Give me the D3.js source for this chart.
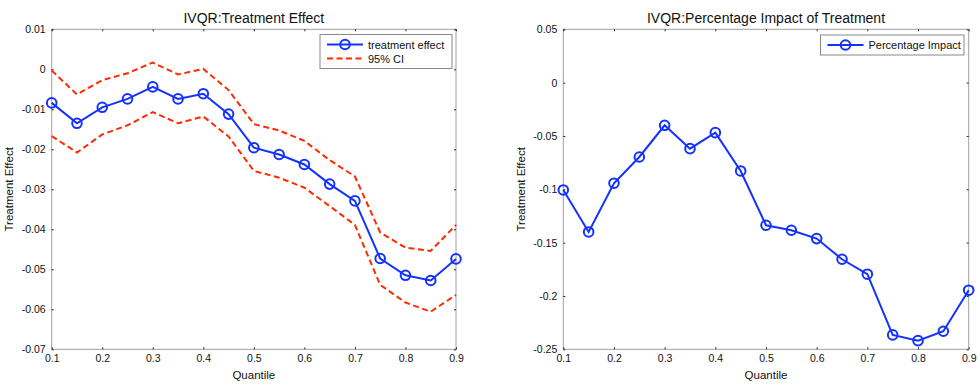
<!DOCTYPE html>
<html><head><meta charset="utf-8">
<script src="https://cdn.jsdelivr.net/npm/d3@7"></script>
<style>body{margin:0;background:#fff}svg{display:block}text{font-family:"Liberation Sans",Arial,sans-serif;fill:#111}</style>
</head><body><svg id="c" width="980" height="386"></svg>
<script>
const quantiles = [0.1,0.15,0.2,0.25,0.3,0.35,0.4,0.45,0.5,0.55,0.6,0.65,0.7,0.75,0.8,0.85,0.9];
const effect = [-0.0084,-0.0135,-0.0095,-0.0074,-0.0044,-0.0074,-0.0061,-0.0112,-0.0196,-0.0213,-0.0238,-0.0287,-0.0329,-0.0473,-0.0515,-0.0528,-0.0474];
const ciUpper = [-0.0003,-0.0063,-0.0027,-0.0010,0.0017,-0.0013,0.0001,-0.0052,-0.0137,-0.0153,-0.0179,-0.0227,-0.0268,-0.0408,-0.0446,-0.0454,-0.0389];
const ciLower = [-0.0167,-0.0208,-0.0163,-0.0140,-0.0107,-0.0135,-0.0118,-0.0168,-0.0254,-0.0271,-0.0296,-0.0342,-0.0389,-0.0539,-0.0583,-0.0606,-0.0564];
const pctImpact = [-0.1006,-0.1400,-0.0943,-0.0697,-0.0400,-0.0619,-0.0469,-0.0828,-0.1337,-0.1384,-0.1462,-0.1656,-0.1796,-0.2365,-0.2419,-0.2331,-0.1946];
const xTicks = [0.1,0.2,0.3,0.4,0.5,0.6,0.7,0.8,0.9];
const yTicksL = [0.01,0,-0.01,-0.02,-0.03,-0.04,-0.05,-0.06,-0.07];
const yTicksR = [0.05,0,-0.05,-0.1,-0.15,-0.2,-0.25];

const svg = d3.select("#c");
const BLUE = "#1432ff", RED = "#ff2a00";

function panel(o){
  const g = svg.append("g");
  const x = d3.scaleLinear().domain([0.1,0.9]).range([o.x0,o.x1]);
  const y = d3.scaleLinear().domain(o.ydom).range([o.y1,o.y0]);
  g.append("rect").attr("x",o.x0).attr("y",o.y0).attr("width",o.x1-o.x0).attr("height",o.y1-o.y0)
    .attr("fill","none").attr("stroke","#a0a0a0").attr("stroke-width",1);
  const axB = d3.axisBottom(x).tickValues(xTicks).tickSizeInner(-2).tickSizeOuter(0).tickPadding(5).tickFormat(d=>String(+d.toFixed(2)));
  const axT = d3.axisTop(x).tickValues(xTicks).tickSizeInner(-2).tickSizeOuter(0).tickFormat("");
  const axL = d3.axisLeft(y).tickValues(o.yticks).tickSizeInner(-2).tickSizeOuter(0).tickPadding(6).tickFormat(d=>String(+d.toFixed(3)));
  const axR = d3.axisRight(y).tickValues(o.yticks).tickSizeInner(-2).tickSizeOuter(0).tickFormat("");
  [[axB,`translate(0,${o.y1})`],[axT,`translate(0,${o.y0})`],[axL,`translate(${o.x0},0)`],[axR,`translate(${o.x1},0)`]].forEach(([a,t])=>{
    const ag = g.append("g").attr("transform",t).call(a);
    ag.select(".domain").remove();
    ag.selectAll("line").attr("stroke","#222");
    ag.selectAll("text").attr("font-size",10.5).style("font-family",'"Liberation Sans",Arial,sans-serif').attr("fill","#111");
  });
  g.append("text").attr("x",(o.x0+o.x1)/2).attr("y",23).attr("text-anchor","middle").attr("font-size",14).text(o.title);
  g.append("text").attr("x",(o.x0+o.x1)/2).attr("y",379).attr("text-anchor","middle").attr("font-size",11.5).text("Quantile");
  g.append("text").attr("transform",`translate(${o.ylx},${(o.y0+o.y1)/2}) rotate(-90)`).attr("text-anchor","middle").attr("font-size",11.5).text("Treatment Effect");
  return {g,x,y};
}

function drawLine(p, vals, color, dash, markers){
  const line = d3.line().x((d,i)=>p.x(quantiles[i])).y(d=>p.y(d));
  p.g.append("path").datum(vals).attr("d",line).attr("fill","none").attr("stroke",color).attr("stroke-width",2)
    .attr("stroke-dasharray",dash||null);
  if(markers){
    p.g.selectAll(null).data(vals).enter().append("circle")
      .attr("cx",(d,i)=>p.x(quantiles[i])).attr("cy",d=>p.y(d)).attr("r",4.8)
      .attr("fill","none").attr("stroke",color).attr("stroke-width",2);
  }
}

function legend(p, lx, ly, w, items){
  const h = items.length*14+6;
  p.g.append("rect").attr("x",lx).attr("y",ly).attr("width",w).attr("height",h).attr("fill","#fff").attr("stroke","#888").attr("stroke-width",1);
  items.forEach((it,i)=>{
    const cy = ly+10+i*14;
    p.g.append("line").attr("x1",lx+7).attr("x2",lx+43).attr("y1",cy).attr("y2",cy).attr("stroke",it.color).attr("stroke-width",2).attr("stroke-dasharray",it.dash||null);
    if(it.marker) p.g.append("circle").attr("cx",lx+25).attr("cy",cy).attr("r",4.8).attr("fill","none").attr("stroke",it.color).attr("stroke-width",2);
    p.g.append("text").attr("x",lx+48).attr("y",cy+4).attr("font-size",11).text(it.label);
  });
}

const pL = panel({x0:51.7,x1:456,y0:29.3,y1:349.3,ydom:[-0.07,0.01],yticks:yTicksL,title:"IVQR:Treatment Effect",ylx:13});
drawLine(pL, ciUpper, RED, "6,3.5", false);
drawLine(pL, ciLower, RED, "6,3.5", false);
drawLine(pL, effect, BLUE, null, true);
legend(pL, 320, 34.5, 132, [{label:"treatment effect",color:BLUE,marker:true},{label:"95% CI",color:RED,dash:"6,3.5"}]);

const pR = panel({x0:563.3,x1:968.7,y0:29.3,y1:349.3,ydom:[-0.25,0.05],yticks:yTicksR,title:"IVQR:Percentage Impact of Treatment",ylx:525});
drawLine(pR, pctImpact, BLUE, null, true);
legend(pR, 820.5, 35, 143.5, [{label:"Percentage Impact",color:BLUE,marker:true}]);
</script></body></html>
